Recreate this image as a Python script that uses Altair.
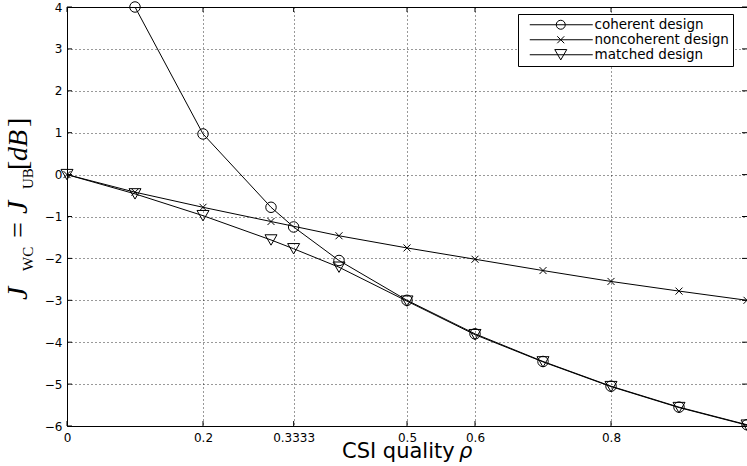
import altair as alt
import pandas as pd

series_names = ["coherent design", "noncoherent design", "matched design"]

rho_coherent = [0.1, 0.2, 0.3, 0.3333, 0.4, 0.5, 0.6, 0.7, 0.8, 0.9, 1.0]
j_coherent = [4.0, 0.97, -0.78, -1.25, -2.05, -3.0, -3.8, -4.46, -5.05, -5.55, -5.97]

rho_noncoherent = [0.0, 0.1, 0.2, 0.3, 0.4, 0.5, 0.6, 0.7, 0.8, 0.9, 1.0]
j_noncoherent = [0.0, -0.42, -0.78, -1.12, -1.46, -1.75, -2.02, -2.29, -2.55, -2.78, -3.0]

rho_matched = [0.0, 0.1, 0.2, 0.3, 0.3333, 0.4, 0.5, 0.6, 0.7, 0.8, 0.9, 1.0]
j_matched = [0.0, -0.46, -0.98, -1.56, -1.77, -2.21, -3.02, -3.82, -4.47, -5.06, -5.56, -5.98]

x_ticks = [0, 0.2, 0.3333, 0.5, 0.6, 0.8]
y_ticks = [-6, -5, -4, -3, -2, -1, 0, 1, 2, 3, 4]

rows = []
for name, xs, ys in [
    (series_names[0], rho_coherent, j_coherent),
    (series_names[1], rho_noncoherent, j_noncoherent),
    (series_names[2], rho_matched, j_matched),
]:
    for a, b in zip(xs, ys):
        rows.append({"series": name, "rho": a, "j": b})
df = pd.DataFrame(rows)

W, H = 680, 419
xscale = alt.Scale(domain=[0, 1], nice=False, zero=False)
yscale = alt.Scale(domain=[-6, 4], nice=False, zero=False)

x_axis = alt.Axis(
    values=x_ticks, labelExpr="toString(datum.value)",
    labelPadding=6, ticks=False, tickSize=0,
    domain=False, labelFlush=False, labelOverlap=False, grid=True, title=None,
)
y_axis = alt.Axis(
    values=y_ticks, format="d", labelPadding=5, ticks=False, tickSize=0,
    domain=False, labelFlush=False, labelOverlap=False, title=None, grid=True,
)

X = alt.X("rho:Q", scale=xscale, axis=x_axis)
Y = alt.Y("j:Q", scale=yscale, axis=y_axis)

lines = alt.Chart(df).mark_line(color="black", strokeWidth=1).encode(
    x=X, y=Y, detail="series:N", order="rho:Q"
)

marker_defs = [
    (series_names[0], "circle", 110),
    (series_names[1], "M-1,-1L1,1M-1,1L1,-1", 49),
    (series_names[2], "triangle-down", 144),
]
point_layers = []
for name, shp, sz in marker_defs:
    point_layers.append(
        alt.Chart(df)
        .transform_filter(alt.datum.series == name)
        .mark_point(shape=shp, size=sz, filled=False, color="black", strokeWidth=1, opacity=1)
        .encode(x=X, y=Y)
    )

legend_paths = [
    "M-31,0L32,0M4.5,0A4.5,4.5 0 1,1 -4.5,0A4.5,4.5 0 1,1 4.5,0",
    "M-31,0L32,0M-3.5,-3.5L3.5,3.5M-3.5,3.5L3.5,-3.5",
    "M-31,0L32,0M0,5.2L-6,-5.2L6,-5.2Z",
]
legend_layer = alt.Chart(df).mark_point(
    opacity=0, filled=False, color="black", size=4, strokeWidth=1
).encode(
    x=X, y=Y,
    shape=alt.Shape(
        "series:N",
        scale=alt.Scale(domain=series_names, range=legend_paths),
        legend=alt.Legend(
            title=None, orient="none", legendX=451, legendY=7,
            padding=4, rowPadding=0, symbolOffset=32, labelOffset=27,
            labelFont="DejaVu Sans", labelFontSize=13.5, labelColor="black",
            strokeColor="black", fillColor="white", symbolSize=4,
            symbolOpacity=1, symbolStrokeColor="black", symbolStrokeWidth=1,
        ),
    ),
)

# inward tick marks on the frame
xt = pd.DataFrame({"rho": x_ticks})
yt = pd.DataFrame({"j": y_ticks})
tick_layers = [
    alt.Chart(xt).mark_rule(color="black", strokeWidth=1).encode(
        x=X, y=alt.value(H), y2=alt.value(H - 5)),
    alt.Chart(xt).mark_rule(color="black", strokeWidth=1).encode(
        x=X, y=alt.value(0), y2=alt.value(5)),
    alt.Chart(yt).mark_rule(color="black", strokeWidth=1).encode(
        y=Y, x=alt.value(0), x2=alt.value(5)),
    alt.Chart(yt).mark_rule(color="black", strokeWidth=1).encode(
        y=Y, x=alt.value(W), x2=alt.value(W - 5)),
]

one = pd.DataFrame({"a": [0]})

# x-axis title: "CSI quality ρ"
x_title_pieces = [
    ("CSI quality", "normal", 275),
    ("ρ", "italic", 392),
]
x_title_layers = []
for txt, style, px in x_title_pieces:
    x_title_layers.append(
        alt.Chart(one).mark_text(
            text=txt, font="DejaVu Sans", fontStyle=style, fontSize=21,
            align="left", baseline="alphabetic", color="black",
        ).encode(x=alt.value(px), y=alt.value(451))
    )

# y-axis title J_WC = J_UB[dB], built from pieces
y_title_pieces = [
    ("J", "italic", 30, -40, 293),
    ("WC", "normal", 15, -34, 264),
    ("=", "normal", 28, -40, 231),
    ("J", "italic", 30, -40, 207),
    ("UB", "normal", 15, -34, 182),
    ("[", "normal", 28, -40, 163),
    ("dB", "italic", 28, -40, 154),
    ("]", "normal", 28, -40, 120),
]
y_title_layers = []
for txt, style, fs, px, py in y_title_pieces:
    y_title_layers.append(
        alt.Chart(one).mark_text(
            text=txt, font="Liberation Serif", fontStyle=style, fontSize=fs,
            angle=270, align="left", baseline="alphabetic", color="black",
        ).encode(x=alt.value(px), y=alt.value(py))
    )

chart = alt.layer(
    lines, *point_layers, legend_layer, *tick_layers, *x_title_layers, *y_title_layers
).properties(
    width=W, height=H,
    autosize=alt.AutoSizeParams(type="none"),
    padding={"left": 67, "top": 7, "right": 0, "bottom": 40},
).configure_view(
    stroke="black", strokeWidth=1
).configure_axis(
    labelFont="DejaVu Sans", labelFontSize=12, labelColor="black",
    gridColor="black", gridDash=[1, 3], gridOpacity=0.8, gridWidth=1,
)

chart.save("out.html", embed_options={"renderer": "svg", "actions": False})
